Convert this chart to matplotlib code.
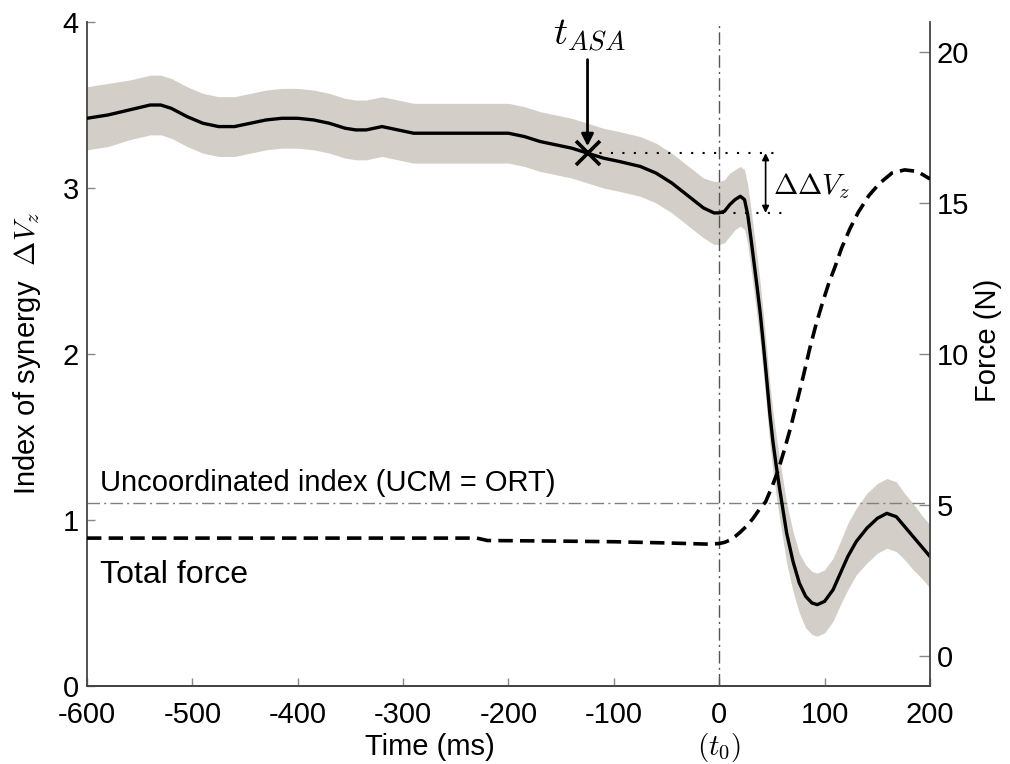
import matplotlib
matplotlib.use("Agg")
import matplotlib.pyplot as plt
import matplotlib.transforms as mtransforms

plt.rcParams['font.family'] = ['Liberation Sans', 'DejaVu Sans']
plt.rcParams['mathtext.fontset'] = 'cm'
plt.rcParams['axes.unicode_minus'] = False

# index of synergy (mean) and band half width
t_syn = [-600, -580, -560, -540, -530, -520, -505, -490, -475, -460, -445, -430,
         -415, -400, -385, -370, -355, -345, -335, -320, -305, -290, -260, -230,
         -215, -200, -185, -170, -155, -140, -125, -110, -95, -75, -60, -45, -35,
         -25, -15, -5, 0, 5, 10, 15, 20, 24, 27, 30, 33, 36, 39, 42, 45, 48, 51,
         54, 57, 60, 64, 70, 76, 82, 88, 93, 100, 108, 115, 122, 130, 140, 150, 159,
         168, 176, 184, 192, 200]
dv_mean = [3.42, 3.44, 3.47, 3.50, 3.50, 3.48, 3.43, 3.39, 3.37, 3.37, 3.39, 3.41,
           3.42, 3.42, 3.41, 3.39, 3.36, 3.35, 3.35, 3.37, 3.35, 3.33, 3.33, 3.33,
           3.33, 3.33, 3.31, 3.28, 3.26, 3.24, 3.21, 3.18, 3.16, 3.13, 3.09, 3.03, 2.98,
           2.93, 2.88, 2.85, 2.85, 2.86, 2.90, 2.93, 2.95, 2.93, 2.84, 2.70, 2.55, 2.40,
           2.24, 2.05, 1.85, 1.64, 1.47, 1.33, 1.20, 1.08, 0.92, 0.75, 0.62, 0.54, 0.50,
           0.49, 0.51, 0.58, 0.68, 0.78, 0.87, 0.95, 1.01, 1.04, 1.02, 0.96, 0.90, 0.84,
           0.78]
dv_sd = [0.19, 0.19, 0.18, 0.18, 0.18, 0.18, 0.18, 0.18, 0.18, 0.18, 0.18, 0.18,
         0.18, 0.18, 0.18, 0.18, 0.18, 0.18, 0.18, 0.18, 0.18, 0.18, 0.18, 0.18,
         0.18, 0.18, 0.18, 0.18, 0.18, 0.18, 0.18, 0.18, 0.18, 0.18, 0.18, 0.18, 0.18,
         0.18, 0.18, 0.19, 0.19, 0.19, 0.19, 0.18, 0.18, 0.18, 0.18, 0.18, 0.18, 0.18,
         0.18, 0.18, 0.18, 0.18, 0.18, 0.18, 0.18, 0.18, 0.18, 0.18, 0.18, 0.19, 0.19,
         0.19, 0.19, 0.19, 0.19, 0.20, 0.20, 0.21, 0.21, 0.21, 0.21, 0.20, 0.20, 0.19,
         0.19]

# total force (N)
t_force = [-600, -230, -220, -150, -100, -50, -10, 0, 5, 10, 15, 20, 26, 32, 38, 44,
           50, 56, 62, 68, 74, 80, 86, 92, 98, 104, 110, 116, 124, 132, 142, 152,
           164, 176, 188, 200]
force = [3.9, 3.9, 3.82, 3.80, 3.78, 3.74, 3.70, 3.72, 3.76, 3.83, 3.95, 4.1, 4.3,
         4.55, 4.85, 5.1, 5.6, 6.15, 6.85, 7.6, 8.45, 9.3, 10.2, 11.0, 11.7, 12.35,
         12.9, 13.5, 14.15, 14.7, 15.25, 15.65, 16.0, 16.1, 16.05, 15.8]

ucm_level = 1.1
t_asa = -125
dv_asa = 3.21
dv_t0 = 2.85

fs = 21

fig = plt.figure(figsize=(10.1, 7.64), dpi=100)
ax = fig.add_axes([0.0861, 0.1021, 0.8347, 0.8691])
ax2 = ax.twinx()

lower = [m - s for m, s in zip(dv_mean, dv_sd)]
upper = [m + s for m, s in zip(dv_mean, dv_sd)]
ax.fill_between(t_syn, lower, upper, color='#d3cfc8', lw=0, zorder=1)
ax.plot(t_syn, dv_mean, color='black', lw=2.4, zorder=3, solid_joinstyle='round')

ax.axhline(ucm_level, color='#808080', lw=1, ls=(0, (9, 3, 1.5, 3)), zorder=2)
ax.axvline(0, color='#555555', lw=1, ls=(0, (9, 3, 1.5, 3)), zorder=2)

ax2.plot(t_force, force, color='black', lw=2.6, ls=(0, (4, 2)), zorder=3)

# t_ASA marker and arrows
ax.plot([t_asa], [dv_asa], marker='x', ms=17, mew=2.6, color='black', zorder=5)
ax.annotate('', xy=(t_asa, 3.235), xytext=(t_asa, 3.79),
            arrowprops=dict(arrowstyle='-|>', color='black', lw=2, mutation_scale=18),
            zorder=5)
ax.text(t_asa + 2, 3.92, r'$t_{ASA}$', fontsize=28, ha='center', va='center')
ax.plot([t_asa, 55], [dv_asa, dv_asa], color='black', lw=1.5, ls=(0, (1, 4.5)))
ax.plot([3, 65], [dv_t0, dv_t0], color='black', lw=1.5, ls=(0, (1, 4.5)))
ax.annotate('', xy=(44, dv_t0), xytext=(44, dv_asa),
            arrowprops=dict(arrowstyle='<|-|>', color='black', lw=1.2, mutation_scale=10,
                            shrinkA=0, shrinkB=0))
ax.text(51, 3.01, r'$\Delta\Delta V_z$', fontsize=21, ha='left', va='center')

ax.text(-588, 1.22, 'Uncoordinated index (UCM = ORT)', fontsize=fs, ha='left', va='center')
ax.text(-588, 0.67, 'Total force', fontsize=fs + 2, ha='left', va='center')

ax.set_xlim(-600, 200)
ax.set_ylim(0, 4)
ax2.set_ylim(-1, 21)
ax.set_xticks(range(-600, 201, 100))
ax.set_yticks([0, 1, 2, 3, 4])
ax2.set_yticks([0, 5, 10, 15, 20])

for a in (ax, ax2):
    a.spines['top'].set_visible(False)
    for s in a.spines.values():
        s.set_color('#444444')
        s.set_linewidth(1.3)
ax2.spines['left'].set_visible(False)
ax.spines['right'].set_visible(False)

ax.tick_params(axis='both', direction='in', length=6, width=1, color='#888888',
               labelsize=fs, top=False, right=False)
ax.tick_params(axis='x', pad=11)
ax.tick_params(axis='y', pad=6)
ax2.tick_params(axis='y', direction='in', length=8, width=1, color='#888888',
                labelsize=fs, pad=5)

ax.set_xlabel('Time (ms)', fontsize=fs, va='center')
ax.xaxis.set_label_coords(0.407, -0.092)
trans = mtransforms.blended_transform_factory(ax.transData, ax.transAxes)
ax.text(0, -0.092, r'$(t_0)$', transform=trans, fontsize=21, ha='center', va='center')

ax.set_ylabel(r'Index of synergy  $\Delta V_z$', fontsize=fs, va='center')
ax.yaxis.set_label_coords(-0.071, 0.5)
ax2.set_ylabel('Force (N)', fontsize=fs, va='center')
ax2.yaxis.set_label_coords(1.069, 0.52)

fig.savefig('out.png', dpi=100)
